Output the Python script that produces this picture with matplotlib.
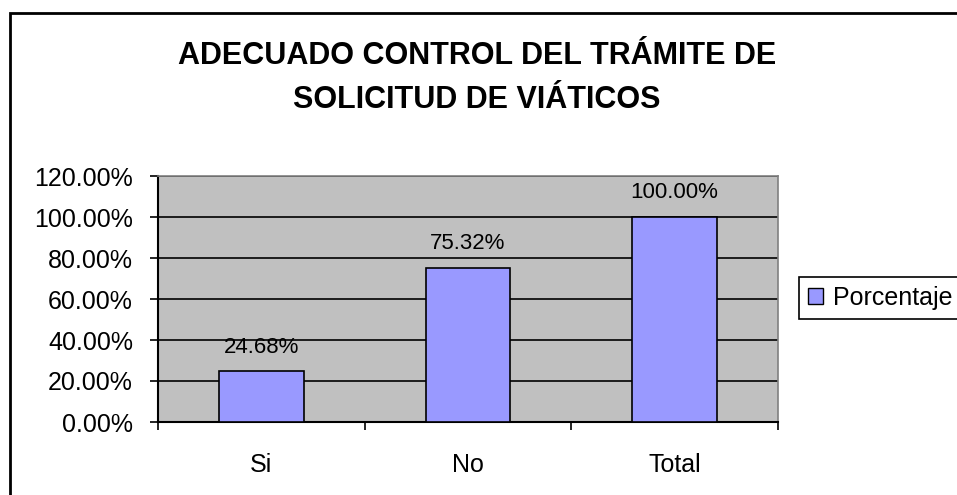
import matplotlib
matplotlib.use('Agg')
import matplotlib.pyplot as plt
from matplotlib.patches import Rectangle

plt.rcParams['font.family'] = ['Liberation Sans', 'DejaVu Sans']

# datos
categorias = ['Si', 'No', 'Total']
porcentaje = [0.2468, 0.7532, 1.0]
etiquetas = ['24.68%', '75.32%', '100.00%']
yticks = [0, 0.2, 0.4, 0.6, 0.8, 1.0, 1.2]

W, H = 957, 495
fig = plt.figure(figsize=(W / 100, H / 100), dpi=100)
ax = fig.add_axes([158 / W, 1 - 422 / H, 620 / W, 246 / H])
ax.set_facecolor('#C0C0C0')

x = list(range(len(categorias)))
ax.bar(x, porcentaje, width=0.41, color='#9999FF', edgecolor='black', linewidth=1.2, zorder=3)
for xi, v, t in zip(x, porcentaje, etiquetas):
    ax.annotate(t, (xi, v), xytext=(0, 10), textcoords='offset points',
                ha='center', va='bottom', fontsize=16)

ax.set_xlim(-0.5, 2.5)
ax.set_ylim(0, 1.2)
ax.set_yticks(yticks)
ax.set_yticklabels(['%.2f%%' % (v * 100) for v in yticks], fontsize=18)
ax.yaxis.grid(True, color='black', linewidth=1.2, zorder=1)
ax.set_axisbelow(True)
ax.tick_params(axis='y', length=6, width=1.2, pad=12)

ax.set_xticks(x)
ax.set_xticklabels(categorias, fontsize=18)
ax.set_xticks([-0.5, 0.5, 1.5, 2.5], minor=True)
ax.tick_params(axis='x', which='major', length=0, pad=22)
ax.tick_params(axis='x', which='minor', length=6, width=1.2)

for s in ['left', 'bottom']:
    ax.spines[s].set_color('black')
    ax.spines[s].set_linewidth(1.5)
for s in ['top', 'right']:
    ax.spines[s].set_color('#808080')
    ax.spines[s].set_linewidth(1.2)

fig.text(477 / W, 1 - 78 / H, 'ADECUADO CONTROL DEL TRÁMITE DE\nSOLICITUD DE VIÁTICOS',
         ha='center', va='center', fontsize=22, fontweight='bold', linespacing=1.6)

leg = fig.legend([Rectangle((0, 0), 1, 1, facecolor='#9999FF', edgecolor='black')], ['Porcentaje'],
                 loc='center left', bbox_to_anchor=(799 / W, 1 - 298 / H), fontsize=18,
                 fancybox=False, edgecolor='black', framealpha=1, borderaxespad=0,
                 handlelength=0.6, handleheight=0.6, handletextpad=0.4, borderpad=0.35)
leg.get_frame().set_linewidth(1.2)

# marco exterior
fig.add_artist(Rectangle((10 / W, -0.2), 1.2, 1.2 - 13 / H, transform=fig.transFigure,
                         fill=False, edgecolor='black', linewidth=2))

fig.savefig('out.png', dpi=100)
